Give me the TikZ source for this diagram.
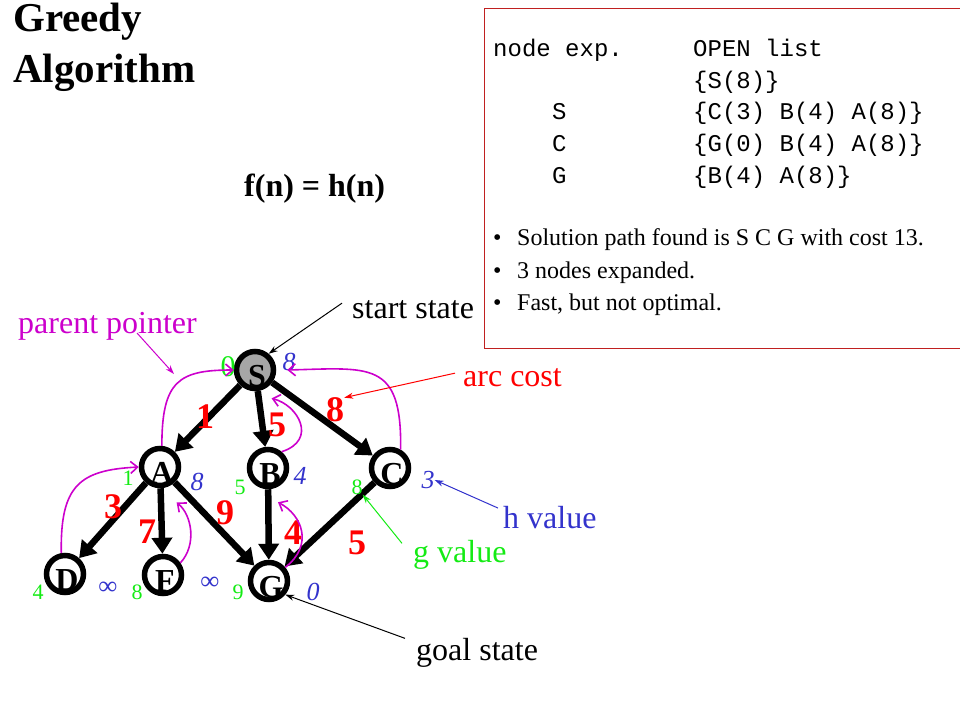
\documentclass[tikz,border=0pt]{standalone}
\usepackage{fontspec}
\setmainfont{Liberation Serif}
\setmonofont{Liberation Mono}
\usetikzlibrary{arrows.meta}

\definecolor{hblue}{RGB}{51,51,204}
\definecolor{ggreen}{RGB}{20,235,20}
\definecolor{ppurple}{RGB}{204,0,204}
\definecolor{boxred}{RGB}{192,32,32}

\begin{document}
\begin{tikzpicture}[x=1pt, y=-1pt,
    vert/.style={circle, draw, line width=5.5pt, minimum size=37pt, inner sep=0pt},
    letter/.style={font=\fontsize{32}{36}\selectfont\bfseries, inner sep=0pt, xshift=2pt, yshift=-6pt},
    link/.style={line width=6.5pt, -{Triangle[length=16pt,width=20pt]}},
    cost/.style={text=red, font=\fontsize{36}{40}\selectfont\bfseries, inner sep=0pt},
    gnum/.style={text=ggreen, font=\fontsize{22}{24}\selectfont, inner sep=0pt},
    hnum/.style={text=hblue, font=\fontsize{26}{28}\selectfont\itshape, inner sep=0pt},
    backptr/.style={ppurple, line width=1.6pt, -{Straight Barb[length=7pt,width=12pt]}},
    note/.style={line width=1pt, -{Stealth[length=9pt,width=6pt]}},
    lbl/.style={font=\fontsize{32}{36}\selectfont, inner sep=0pt, anchor=base west},
    mono/.style={font=\fontsize{24}{28}\selectfont\ttfamily, inner sep=0pt, anchor=base west},
    boxtxt/.style={font=\fontsize{24}{28}\selectfont, inner sep=0pt, anchor=base west}]

    \useasboundingbox (0,0) rectangle (960,720);

    % title
    \node[font=\fontsize{41}{48}\selectfont\bfseries, inner sep=0pt, anchor=base west] (title1) at (13,31) {Greedy};
    \node[font=\fontsize{41}{48}\selectfont\bfseries, inner sep=0pt, anchor=base west] (title2) at (13,82) {Algorithm};
    \node[font=\fontsize{32}{36}\selectfont\bfseries, inner sep=0pt, anchor=base west] (fn) at (244,196) {f(n) = h(n)};

    % trace box
    \draw[boxred, line width=1pt] (960,8) -- (484,8) -- (484,348) -- (960,348);
    \node[mono] (hdrexp) at (493,56) {node exp.};
    \node[mono] (hdropen) at (693,56) {OPEN list};
    \node[mono] (open0) at (693,88) {\{S(8)\}};
    \node[mono] (exp1) at (552,119) {S};
    \node[mono] (open1) at (693,119) {\{C(3) B(4) A(8)\}};
    \node[mono] (exp2) at (552,151) {C};
    \node[mono] (open2) at (693,151) {\{G(0) B(4) A(8)\}};
    \node[mono] (exp3) at (552,183) {G};
    \node[mono] (open3) at (693,183) {\{B(4) A(8)\}};
    \node[boxtxt] (dot1) at (493,245) {\textbullet};
    \node[boxtxt] (res1) at (517,245) {Solution path found is S C G with cost 13.};
    \node[boxtxt] (dot2) at (493,278) {\textbullet};
    \node[boxtxt] (res2) at (517,278) {3 nodes expanded.};
    \node[boxtxt] (dot3) at (493,310) {\textbullet};
    \node[boxtxt] (res3) at (517,310) {Fast, but not optimal.};

    % search graph
    \node[vert, fill=black!35, label={[letter]center:S}] (S) at (255,370) {};
    \node[vert, label={[letter]center:A}] (A) at (160,467) {};
    \node[vert, label={[letter]center:B}] (B) at (268,468) {};
    \node[vert, label={[letter]center:C}] (C) at (390,468) {};
    \node[vert, label={[letter]center:D}] (D) at (65,574) {};
    \node[vert, label={[letter]center:F}] (F) at (163,575) {};
    \node[vert, label={[letter]center:G}] (G) at (269,581) {};

    \draw[link] (S) -- (A);
    \draw[link] (S) -- (B);
    \draw[link] (S) -- (C);
    \draw[link] (A) -- (D);
    \draw[link] (A) -- (F);
    \draw[link] (A) -- (G);
    \draw[link] (B) -- (G);
    \draw[link] (C) -- (G);

    % arc costs
    \node[cost] (c1) at (205,417) {1};
    \node[cost] (c5) at (277,425) {5};
    \node[cost] (c8) at (335,410) {8};
    \node[cost] (c3) at (113,507) {3};
    \node[cost] (c7) at (147,532) {7};
    \node[cost] (c9) at (225,513) {9};
    \node[cost] (c4) at (293,533) {4};
    \node[cost] (c5b) at (357,543) {5};

    % g values
    \node[gnum, font=\fontsize{30}{32}\selectfont] (gS) at (228,367) {0};
    \node[gnum] (gA) at (128,478) {1};
    \node[gnum] (gB) at (240,487) {5};
    \node[gnum] (gC) at (357,487) {8};
    \node[gnum] (gD) at (38,592) {4};
    \node[gnum] (gF) at (137,592) {8};
    \node[gnum] (gG) at (238,592) {9};

    % h values
    \node[hnum] (hS) at (289,362) {8};
    \node[hnum] (hA) at (197,482) {8};
    \node[hnum] (hB) at (300,476) {4};
    \node[hnum] (hC) at (428,480) {3};
    \node[hnum] (hD) at (108,588) {∞};
    \node[hnum] (hF) at (210,583) {∞};
    \node[hnum] (hG) at (313,592) {0};

    % parent pointers
    \draw[backptr] (A.85) .. controls +(0,-65) and +(-55,0) .. (S.west);
    \draw[backptr] (B.50) .. controls (318,440) and (298,405) .. ([xshift=6pt,yshift=-10pt]S.-60);
    \draw[backptr] (C.60) .. controls (402,360) and (370,368) .. ([xshift=11pt]S.east);
    \draw[backptr] (D.100) .. controls (60,485) and (80,470) .. (A.west);
    \draw[backptr] (F.35) .. controls (197,545) and (192,515) .. ([xshift=6pt,yshift=-17pt]A.-60);
    \draw[backptr] (G.40) .. controls (314,545) and (302,515) .. ([xshift=10pt,yshift=-13pt]B.south);

    % annotations
    \node[lbl, text=ppurple] (ppoint) at (18,333) {parent pointer};
    \node[lbl] (sstate) at (352,318) {start state};
    \node[lbl, text=red] (arccost) at (463,386) {arc cost};
    \node[lbl, text=hblue] (hlabel) at (503,528) {h value};
    \node[lbl, text=ggreen] (glabel) at (413,562) {g value};
    \node[lbl] (goal) at (416,660) {goal state};

    \coordinate (ppfrom) at (137,333);
    \coordinate (ppto) at (174,374);
    \draw[note, ppurple] (ppfrom) -- (ppto);
    \draw[note] ([xshift=-10pt,yshift=6pt]sstate.west) -- (S.50);
    \draw[note, red] ([xshift=-8pt,yshift=4pt]arccost.west) -- (c8.north east);
    \draw[note, hblue] ([xshift=-5pt,yshift=9pt]hlabel.west) -- (hC.east);
    \draw[note, ggreen] ([xshift=-11pt,yshift=11pt]glabel.west) -- (gC.south east);
    \draw[note] ([xshift=-11pt,yshift=14pt]goal.west) -- (G.-40);
\end{tikzpicture}
\end{document}
